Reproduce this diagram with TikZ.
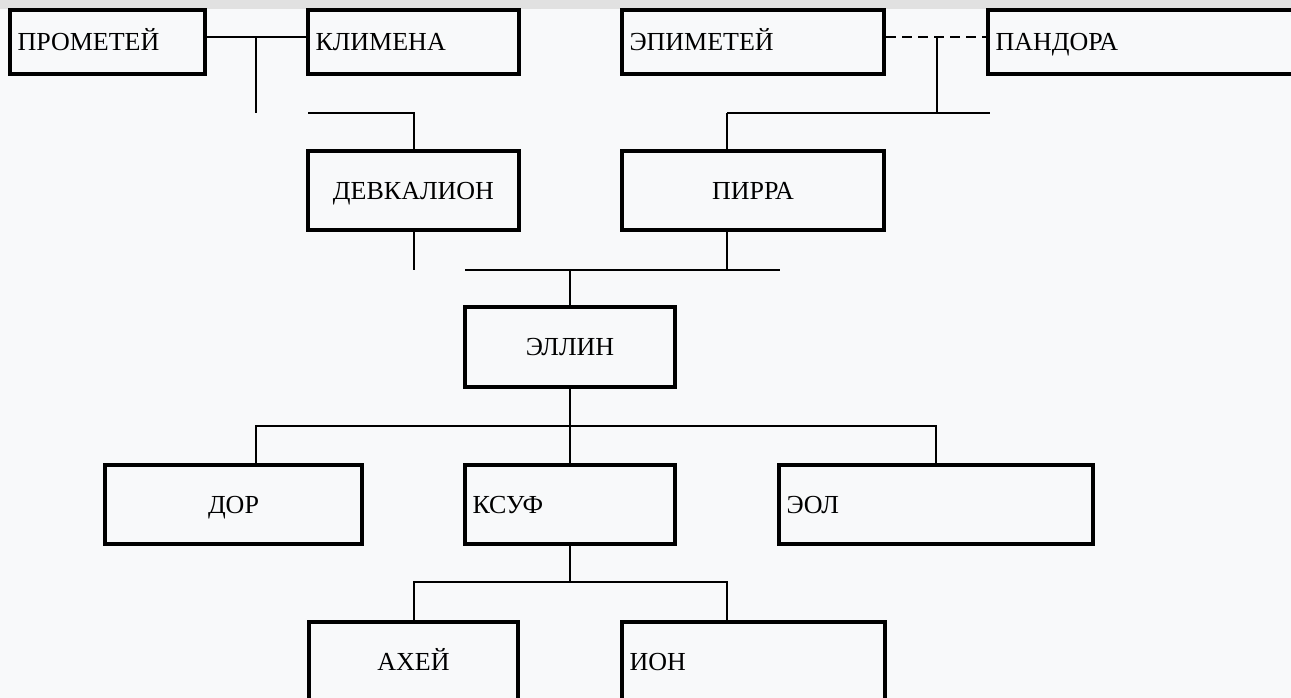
\documentclass[tikz,border=0pt]{standalone}
\usepackage{fontspec}
\setmainfont{Liberation Serif}
\usetikzlibrary{calc}

\definecolor{pagebg}{HTML}{F8F9FA}
\definecolor{bandgray}{HTML}{E1E1E1}

\tikzset{
	person/.style={draw, line width=4pt, inner sep=0pt, text height=17.5pt, text depth=0pt,
		font=\fontsize{26}{30}\selectfont},
	leftname/.style={person, text width=#1, align=left},
	link/.style={line width=2pt},
}

\begin{document}
\begin{tikzpicture}[x=1pt, y=-1pt]
	\useasboundingbox (0, 0) rectangle (1291, 698);
	\fill[pagebg] (0, 0) rectangle (1291, 698);
	\fill[bandgray] (0, 0) rectangle (1291, 9.5);

	% first generation
	\node[leftname=180pt, minimum width=195pt, minimum height=64pt] (prometheus) at (107.5, 42) {ПРОМЕТЕЙ};
	\node[leftname=196pt, minimum width=211pt, minimum height=64pt] (klimena) at (413.5, 42) {КЛИМЕНА};
	\node[leftname=247pt, minimum width=262pt, minimum height=64pt] (epimetheus) at (753, 42) {ЭПИМЕТЕЙ};
	\node[leftname=307pt, minimum width=322pt, minimum height=64pt] (pandora) at (1149, 42) {ПАНДОРА};

	% second generation
	\node[person, minimum width=211pt, minimum height=79pt] (deucalion) at (413.5, 190.5) {ДЕВКАЛИОН};
	\node[person, minimum width=262pt, minimum height=79pt] (pyrrha) at (753, 190.5) {ПИРРА};

	\node[person, minimum width=210pt, minimum height=80pt] (hellen) at (570, 347) {ЭЛЛИН};

	\node[person, minimum width=257pt, minimum height=79pt] (dorus) at (233.5, 504.5) {ДОР};
	\node[leftname=195pt, minimum width=210pt, minimum height=79pt] (xuthus) at (570, 504.5) {КСУФ};
	\node[leftname=299pt, minimum width=314pt, minimum height=79pt] (aeolus) at (936, 504.5) {ЭОЛ};

	\node[person, minimum width=209pt, minimum height=80pt] (achaeus) at (413.5, 662) {АХЕЙ};
	\node[leftname=248pt, minimum width=263pt, minimum height=80pt] (ion) at (753.5, 662) {ИОН};

	% marriages
	\coordinate (pk) at (256, 37);
	\coordinate (pkend) at (256, 113);
	\coordinate (dk) at (308, 113);
	\draw[link] (prometheus.east |- pk) -- (klimena.west |- pk);
	\draw[link] (pk) -- (pkend);
	\draw[link] (dk) -| (deucalion.north);

	\coordinate (ep) at (937, 37);
	\coordinate (epbar) at (937, 113);
	\coordinate (pyr) at (727, 113);
	\coordinate (pyrend) at (990, 113);
	\draw[link, dash pattern=on 10pt off 6pt] (epimetheus.east |- ep) -- (pandora.west |- ep);
	\draw[link] (ep) -- (epbar);
	\draw[link] (pyr) -- (pyrend);
	\draw[link] (pyr) -- (pyrrha.north -| pyr);

	\coordinate (dend) at (413.5, 270);
	\coordinate (dp) at (570, 270);
	\coordinate (dpl) at (465, 270);
	\coordinate (dpr) at (780, 270);
	\draw[link] (deucalion.south) -- (dend);
	\draw[link] (pyrrha.south -| pyr) -- (pyr |- dp);
	\draw[link] (dpl) -- (dpr);
	\draw[link] (dp) -- (hellen.north);

	% children
	\coordinate (hk) at (570, 426);
	\coordinate (dork) at (256, 426);
	\draw[link] (hellen.south) -- (hk);
	\draw[link] (dorus.north -| dork) -- (dork) -| (aeolus.north);
	\draw[link] (hk) -- (xuthus.north);

	\coordinate (xk) at (570, 582);
	\coordinate (xl) at (727, 582);
	\draw[link] (xuthus.south) -- (xk);
	\draw[link] (achaeus.north) |- (xl) -- (ion.north -| xl);

\end{tikzpicture}
\end{document}
